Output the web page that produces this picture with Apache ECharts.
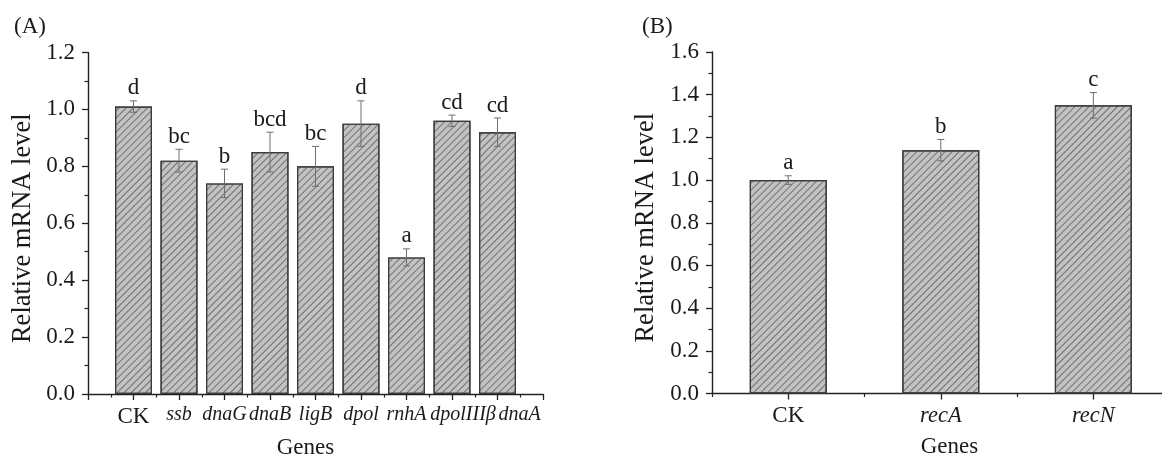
<!DOCTYPE html>
<html>
<head>
<meta charset="utf-8">
<script src="https://cdn.jsdelivr.net/npm/echarts@6/dist/echarts.min.js"></script>
<style>
  html, body { margin: 0; padding: 0; background: #ffffff; }
  #chart { width: 1162px; height: 459px; }
</style>
</head>
<body>
<div id="chart"></div>
<script>
// ---------- Data ----------
const genesA   = ['CK', 'ssb', 'dnaG', 'dnaB', 'ligB', 'dpol', 'rnhA', 'dpolIIIβ', 'dnaA'];
const valuesA  = [1.01, 0.82, 0.74, 0.85, 0.80, 0.95, 0.48, 0.96, 0.92];
const errorsA  = [0.02, 0.04, 0.05, 0.07, 0.07, 0.08, 0.03, 0.02, 0.05];
const lettersA = ['d', 'bc', 'b', 'bcd', 'bc', 'd', 'a', 'cd', 'cd'];

const genesB   = ['CK', 'recA', 'recN'];
const valuesB  = [1.00, 1.14, 1.35];
const errorsB  = [0.02, 0.05, 0.06];
const lettersB = ['a', 'b', 'c'];

const yTicksA = [0, 0.2, 0.4, 0.6, 0.8, 1.0, 1.2];
const yTicksB = [0, 0.2, 0.4, 0.6, 0.8, 1.0, 1.2, 1.4, 1.6];

// ---------- Styling helpers ----------
const FONT = '"Liberation Serif", "Times New Roman", serif';
const TXT = '#1a1a1a';
const AXIS = '#222222';

// label nudges (pixels to the right) for crowded panel-A labels, as in the source figure
const labelNudgeA = { 'dpolIIIβ': 11, 'dnaA': 22 };

function geneLabelA(name) {
  if (name === 'CK') return name;
  const n = labelNudgeA[name];
  return n ? '{n' + n + '|' + name + '}' : '{i|' + name + '}';
}
function geneLabelB(name) {
  return name === 'CK' ? name : '{i|' + name + '}';
}

const richA = { i: { fontFamily: FONT, fontSize: 20, fontStyle: 'italic', color: TXT } };
Object.values(labelNudgeA).forEach(n => {
  richA['n' + n] = { fontFamily: FONT, fontSize: 20, fontStyle: 'italic', color: TXT, padding: [0, 0, 0, 2 * n] };
});
const richB = { i: { fontFamily: FONT, fontSize: 22.5, fontStyle: 'italic', color: TXT } };

// positions on value x axes
const posA = genesA.map((_, i) => i + 1);        // 1..9 on axis 0..10
const posB = genesB.map((_, i) => i + 0.5);      // 0.5,1.5,2.5 on axis 0..2.95

const barDataA = posA.map((x, i) => [x, valuesA[i]]);
const barDataB = posB.map((x, i) => [x, valuesB[i]]);
const errDataA = posA.map((x, i) => [x, valuesA[i], errorsA[i]]);
const errDataB = posB.map((x, i) => [x, valuesB[i], errorsB[i]]);

const hatch = {
  symbol: 'rect',
  symbolSize: 1,
  dashArrayX: [1, 0],
  dashArrayY: [1, 4],
  rotation: -Math.PI / 4,
  color: 'rgba(85,85,85,0.75)'
};

const barStyle = {
  color: '#c2c2c2',
  borderColor: '#3a3a3a',
  borderWidth: 1.2,
  decal: hatch
};

function errorRenderer(letters) {
  return function (params, api) {
    const x = api.value(0), y = api.value(1), e = api.value(2);
    const top = api.coord([x, y + e]);
    const bot = api.coord([x, y - e]);
    const cw = 3.5;
    const st = { stroke: '#6e6e6e', lineWidth: 1 };
    return {
      type: 'group',
      children: [
        { type: 'line', shape: { x1: top[0], y1: top[1], x2: bot[0], y2: bot[1] }, style: st },
        { type: 'line', shape: { x1: top[0] - cw, y1: top[1], x2: top[0] + cw, y2: top[1] }, style: st },
        { type: 'line', shape: { x1: bot[0] - cw, y1: bot[1], x2: bot[0] + cw, y2: bot[1] }, style: st },
        {
          type: 'text',
          style: {
            text: letters[params.dataIndex],
            x: top[0], y: top[1] - 1,
            align: 'center', verticalAlign: 'bottom',
            fontFamily: FONT, fontSize: 23, fill: TXT
          }
        }
      ]
    };
  };
}

const commonAxisLine = { show: true, lineStyle: { color: AXIS, width: 1.4 } };

const option = {
  backgroundColor: '#ffffff',
  animation: false,
  title: [
    { text: '(A)', left: 9, top: 10, textStyle: { fontFamily: FONT, fontSize: 23, fontWeight: 'normal', color: TXT } },
    { text: '(B)', left: 637, top: 10, textStyle: { fontFamily: FONT, fontSize: 23, fontWeight: 'normal', color: TXT } }
  ],
  grid: [
    { left: 88, top: 52.5, width: 455, height: 341.5, containLabel: false, outerBoundsMode: 'none' },
    { left: 712, top: 52, width: 450, height: 341.5, containLabel: false, outerBoundsMode: 'none' }
  ],
  xAxis: [
    {
      gridIndex: 0, type: 'value', min: 0, max: 10, interval: 1,
      axisLine: commonAxisLine,
      axisTick: { show: true, inside: false, length: 6, lineStyle: { color: AXIS, width: 1.3 } },
      minorTick: { show: true, splitNumber: 2, length: 3.5, lineStyle: { color: AXIS, width: 1.2 } },
      splitLine: { show: false },
      axisLabel: {
        margin: 11, fontFamily: FONT, fontSize: 23, color: TXT,
        formatter: v => (v >= 1 && v <= genesA.length) ? geneLabelA(genesA[v - 1]) : '',
        rich: richA
      },
      name: 'Genes', nameLocation: 'middle', nameGap: 42,
      nameTextStyle: { fontFamily: FONT, fontSize: 23, color: TXT, padding: [0, 20, 0, 0] }
    },
    {
      gridIndex: 1, type: 'value', min: 0, max: 2.95,
      axisLine: commonAxisLine,
      axisTick: { show: true, length: 6, customValues: posB, lineStyle: { color: AXIS, width: 1.3 } },
      splitLine: { show: false },
      axisLabel: {
        margin: 11, fontFamily: FONT, fontSize: 23, color: TXT,
        customValues: posB,
        formatter: v => { const i = posB.indexOf(v); return i >= 0 ? geneLabelB(genesB[i]) : ''; },
        rich: richB
      },
      name: 'Genes', nameLocation: 'middle', nameGap: 42,
      nameTextStyle: { fontFamily: FONT, fontSize: 23, color: TXT, padding: [0, 0, 0, 25] }
    },
    {
      gridIndex: 1, type: 'value', min: 0, max: 2.95, position: 'bottom',
      axisLine: { show: false },
      axisTick: { show: true, length: 3.5, customValues: [0, 1, 2], lineStyle: { color: AXIS, width: 1.2 } },
      axisLabel: { show: false },
      splitLine: { show: false }
    }
  ],
  yAxis: [
    {
      gridIndex: 0, type: 'value', min: 0, max: 1.2, interval: 0.2,
      axisLine: commonAxisLine,
      axisTick: { show: true, length: 6, lineStyle: { color: AXIS, width: 1.3 } },
      minorTick: { show: true, splitNumber: 2, length: 3.5, lineStyle: { color: AXIS, width: 1.2 } },
      splitLine: { show: false },
      axisLabel: {
        margin: 13, fontFamily: FONT, fontSize: 23, color: TXT,
        customValues: yTicksA,
        formatter: v => v.toFixed(1)
      },
      name: 'Relative mRNA level', nameLocation: 'middle', nameGap: 51, nameRotate: 90,
      nameTextStyle: { fontFamily: FONT, fontSize: 26.5, color: TXT, padding: [0, 10, 0, 0] }
    },
    {
      gridIndex: 1, type: 'value', min: 0, max: 1.6, interval: 0.2,
      axisLine: commonAxisLine,
      axisTick: { show: true, length: 6, lineStyle: { color: AXIS, width: 1.3 } },
      minorTick: { show: true, splitNumber: 2, length: 3.5, lineStyle: { color: AXIS, width: 1.2 } },
      splitLine: { show: false },
      axisLabel: {
        margin: 13, fontFamily: FONT, fontSize: 23, color: TXT,
        customValues: yTicksB,
        formatter: v => v.toFixed(1)
      },
      name: 'Relative mRNA level', nameLocation: 'middle', nameGap: 52, nameRotate: 90,
      nameTextStyle: { fontFamily: FONT, fontSize: 26.5, color: TXT, padding: [0, 10, 0, 0] }
    }
  ],
  series: [
    {
      type: 'bar', xAxisIndex: 0, yAxisIndex: 0, barWidth: 37,
      data: barDataA, itemStyle: barStyle, z: 2
    },
    {
      type: 'custom', xAxisIndex: 0, yAxisIndex: 0, clip: false, z: 5,
      data: errDataA, renderItem: errorRenderer(lettersA)
    },
    {
      type: 'bar', xAxisIndex: 1, yAxisIndex: 1, barWidth: 77,
      data: barDataB, itemStyle: barStyle, z: 2
    },
    {
      type: 'custom', xAxisIndex: 1, yAxisIndex: 1, clip: false, z: 5,
      data: errDataB, renderItem: errorRenderer(lettersB)
    }
  ]
};

const chart = echarts.init(document.getElementById('chart'), null, { renderer: 'canvas' });
chart.setOption(option);
</script>
</body>
</html>
